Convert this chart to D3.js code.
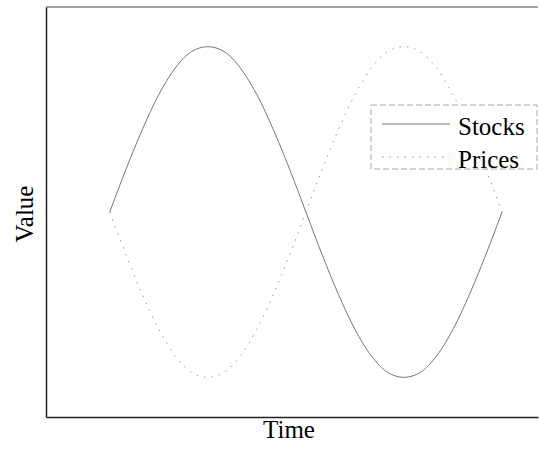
<!DOCTYPE html>
<html>
<head>
<meta charset="utf-8">
<script src="https://cdn.jsdelivr.net/npm/d3@7"></script>
<style>
  body { margin: 0; background: #fff; }
</style>
</head>
<body>
<div class="vis"></div>
<script>
// time steps and the two series
const time = [0, 1, 2, 3, 4, 5, 6, 7, 8, 9, 10, 11, 12, 13, 14, 15, 16, 17, 18, 19, 20, 21, 22, 23, 24];
const stocks = [0, 0.26, 0.5, 0.71, 0.87, 0.97, 1, 0.97, 0.87, 0.71, 0.5, 0.26, 0,
    -0.26, -0.5, -0.71, -0.87, -0.97, -1, -0.97, -0.87, -0.71, -0.5, -0.26, 0];
const prices = [0, -0.26, -0.5, -0.71, -0.87, -0.97, -1, -0.97, -0.87, -0.71, -0.5, -0.26, 0,
    0.26, 0.5, 0.71, 0.87, 0.97, 1, 0.97, 0.87, 0.71, 0.5, 0.26, 0];
const seriesNames = ["Stocks", "Prices"];

const width = 539, height = 451;
const margin = {top: 7, right: 1, bottom: 34, left: 46};

let svg = d3.select(".vis")
    .append("svg")
    .attr("width", width)
    .attr("height", height);

const x = d3.scaleLinear()
    .domain([-3.9, 26.2])
    .range([margin.left, width - margin.right]);

const y = d3.scaleLinear()
    .domain([-1.24, 1.24])
    .range([height - margin.bottom, margin.top]);

// frame, no ticks
svg.append("g")
    .attr("transform", "translate(0," + (height - margin.bottom) + ")")
    .call(d3.axisBottom(x).tickValues([]).tickSizeOuter(0))
    .select(".domain").attr("stroke", "#222").attr("stroke-width", 1.5);
svg.append("g")
    .attr("transform", "translate(" + margin.left + ",0)")
    .call(d3.axisLeft(y).tickValues([]).tickSizeOuter(0))
    .select(".domain").attr("stroke", "#222").attr("stroke-width", 1.5);
svg.append("line")
    .attr("x1", margin.left).attr("x2", width - margin.right)
    .attr("y1", margin.top).attr("y2", margin.top)
    .attr("stroke", "#444").attr("stroke-width", 1);

const line = d3.line()
    .x((d, i) => x(time[i]))
    .y(d => y(d))
    .curve(d3.curveMonotoneX);

svg.append("path")
    .datum(stocks)
    .attr("d", line)
    .attr("fill", "none")
    .attr("stroke", "#777")
    .attr("stroke-width", 1);

svg.append("path")
    .datum(prices)
    .attr("d", line)
    .attr("fill", "none")
    .attr("stroke", "#999")
    .attr("stroke-width", 1)
    .attr("stroke-dasharray", "1.5,6");

// axis titles
svg.append("text")
    .attr("x", 289)
    .attr("y", 438)
    .attr("text-anchor", "middle")
    .style("font-family", "'Liberation Serif', serif")
    .style("font-size", "25px")
    .text("Time");

svg.append("text")
    .attr("transform", "translate(33,214) rotate(-90)")
    .attr("text-anchor", "middle")
    .style("font-family", "'Liberation Serif', serif")
    .style("font-size", "25px")
    .text("Value");

// legend
let legend = svg.append("g");
legend.append("rect")
    .attr("x", 371).attr("y", 105)
    .attr("width", 166).attr("height", 64)
    .attr("fill", "white")
    .attr("stroke", "#aaa")
    .attr("stroke-width", 1)
    .attr("stroke-dasharray", "6,3");

const legendY = [124, 157];
legend.selectAll("line.key")
    .data(seriesNames)
    .join("line")
    .attr("class", "key")
    .attr("x1", 382).attr("x2", 450)
    .attr("y1", (d, i) => legendY[i]).attr("y2", (d, i) => legendY[i])
    .attr("stroke", (d, i) => i === 0 ? "#777" : "#999")
    .attr("stroke-width", 1)
    .attr("stroke-dasharray", (d, i) => i === 0 ? null : "1.5,6");

legend.selectAll("text")
    .data(seriesNames)
    .join("text")
    .attr("x", 458)
    .attr("y", (d, i) => legendY[i] + 11)
    .style("font-family", "'Liberation Serif', serif")
    .style("font-size", "25px")
    .text(d => d);
</script>
</body>
</html>
